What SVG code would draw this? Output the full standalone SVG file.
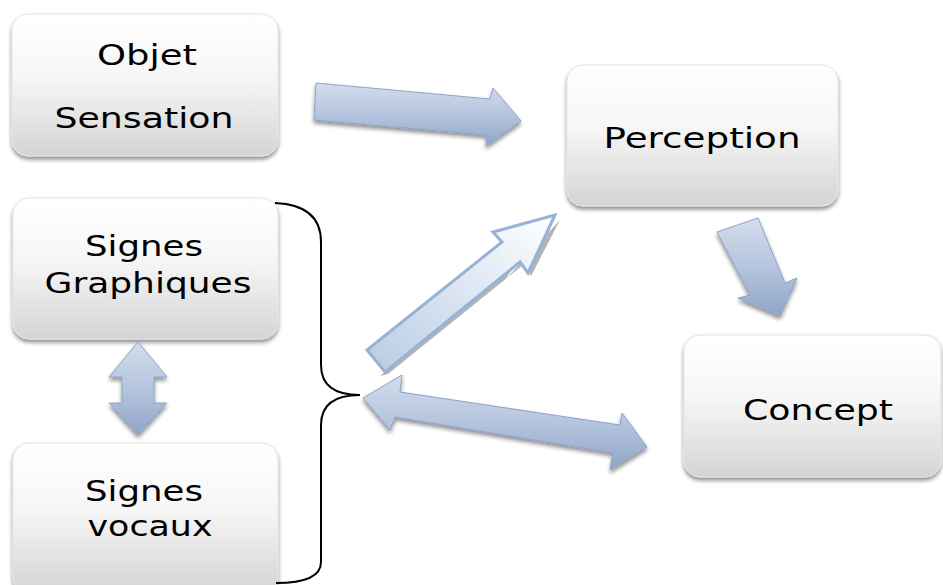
<svg xmlns="http://www.w3.org/2000/svg" width="943" height="585" viewBox="0 0 943 585">
<defs>
<linearGradient id="boxg" x1="0" y1="0" x2="0" y2="1">
<stop offset="0" stop-color="#ffffff"/><stop offset="0.45" stop-color="#f6f6f6"/><stop offset="1" stop-color="#d4d4d4"/>
</linearGradient>
<linearGradient id="arrg" x1="0" y1="0" x2="0" y2="1">
<stop offset="0" stop-color="#d3ddec"/><stop offset="0.5" stop-color="#b5c5de"/><stop offset="1" stop-color="#8fa5c8"/>
</linearGradient>
<linearGradient id="hollowg" x1="1" y1="0" x2="0" y2="1">
<stop offset="0" stop-color="#ffffff"/><stop offset="1" stop-color="#b8cbe4"/>
</linearGradient>
<filter id="sh" x="-10%" y="-10%" width="120%" height="130%">
<feGaussianBlur in="SourceAlpha" stdDeviation="2"/><feOffset dx="0" dy="3"/>
<feComponentTransfer><feFuncA type="linear" slope="0.45"/></feComponentTransfer>
<feMerge><feMergeNode/><feMergeNode in="SourceGraphic"/></feMerge>
</filter>
</defs>
<style>
.box{fill:url(#boxg);stroke:#e4e4e4;stroke-width:1;filter:url(#sh)}
.t{font-family:"DejaVu Sans","Open Sans",sans-serif;font-size:29px;fill:#000;text-anchor:middle}
.arr{fill:url(#arrg);stroke:#8ea3c6;stroke-width:1;filter:url(#sh)}
.brace{fill:none;stroke:#000;stroke-width:2}
</style>
<rect width="943" height="585" fill="#fff"/>
<g id="objet">
<rect class="box" x="12" y="14" width="266" height="142" rx="16"/>
<text class="t" x="147" y="65" textLength="100" lengthAdjust="spacingAndGlyphs">Objet</text>
<text class="t" x="144" y="128" textLength="179" lengthAdjust="spacingAndGlyphs">Sensation</text>
</g>
<g id="perception">
<rect class="box" x="567" y="65" width="271" height="141" rx="16"/>
<text class="t" x="702" y="148" textLength="197" lengthAdjust="spacingAndGlyphs">Perception</text>
</g>
<g id="concept">
<rect class="box" x="684" y="335" width="257" height="142" rx="16"/>
<text class="t" x="818" y="420" textLength="150" lengthAdjust="spacingAndGlyphs">Concept</text>
</g>
<g id="graphiques">
<rect class="box" x="13" y="198" width="265" height="141" rx="16"/>
<text class="t" x="144" y="256" textLength="118" lengthAdjust="spacingAndGlyphs">Signes</text>
<text class="t" x="148" y="293" textLength="207" lengthAdjust="spacingAndGlyphs">Graphiques</text>
</g>
<g id="vocaux">
<rect class="box" x="13" y="443" width="265" height="150" rx="16"/>
<text class="t" x="144" y="501" textLength="118" lengthAdjust="spacingAndGlyphs">Signes</text>
<text class="t" x="150" y="536" textLength="125" lengthAdjust="spacingAndGlyphs">vocaux</text>
</g>
<g id="connectors">
<path class="brace" d="M275,203 Q321,205 321,242 L321,365 Q321,395 360,395 Q321,395 321,425 L321,562 Q321,583 276,583"/>
<polygon class="arr" points="316,83 490,99 493,88 521,121 486,146 487,135 314,120"/>
<polygon class="arr" points="122,377 109,377 138,342 167,377 154,377 154,403 167,403 138,435 109,403 122,403"/>
<polygon class="arr" points="717,232 758,218 785,283 797,278 780,316 738,298 750,295"/>
<polygon class="arr" points="363,398 402,375 400,392 620,425 622,413 647,447 610,470 613,453 395,417 390,430"/>
<polygon points="388,374 523,265 531,276 560,220 505,280 512,269 380,376" fill="#777" opacity="0.55"/>
<polygon points="367,350 502,242 493,232 555,215 528,273 520,262 385,372" fill="url(#hollowg)" stroke="#95b3d7" stroke-width="3" stroke-linejoin="miter"/>
</g>
</svg>
